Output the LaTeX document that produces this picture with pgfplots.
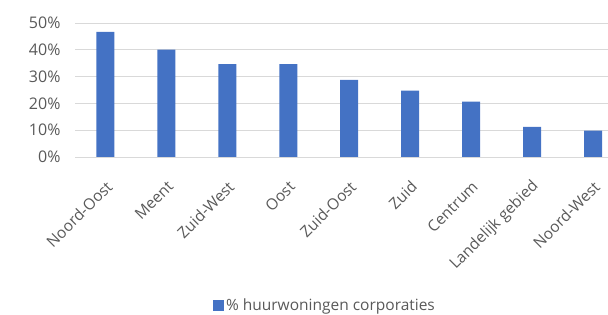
\documentclass[border=0pt]{standalone}
\usepackage{fontspec}
\setmainfont{Open Sans}
\usepackage{pgfplots}
\pgfplotsset{compat=1.18}
\definecolor{barblue}{HTML}{4472C4}
\definecolor{gridgray}{HTML}{D9D9D9}
\definecolor{txtgray}{HTML}{595959}
\begin{document}
\begin{tikzpicture}
\useasboundingbox (0pt,0pt) rectangle (608pt,315pt);
\begin{axis}[
  at={(75pt,158pt)}, anchor=south west,
  scale only axis, width=533pt, height=134pt,
  xmin=-0.5, xmax=8.246, ymin=0, ymax=50,
  ybar, bar width=18pt,
  xtick={0,...,8},
  xticklabels={Noord-Oost,Meent,Zuid-West,Oost,Zuid-Oost,Zuid,Centrum,Landelijk gebied,Noord-West},
  ytick={0,10,20,30,40,50},
  yticklabels={0\%,10\%,20\%,30\%,40\%,50\%},
  ymajorgrids, grid style={gridgray, line width=0.8pt},
  axis line style={draw=none},
  tick style={draw=none},
  major tick length=0pt,
  tick label style={text=txtgray},
  yticklabel style={font=\fontsize{16}{18}\selectfont, xshift=-11pt},
  xticklabel style={font=\fontsize{15.5}{18}\selectfont, xshift=4pt, yshift=-27pt, rotate=45, anchor=east, inner sep=0pt},
  legend style={at={(0.469,-1.105)}, anchor=center, draw=none, fill=none,
    font=\fontsize{15.5}{18}\selectfont, text=txtgray},
  legend image code/.code={\fill[barblue] (0pt,-5.5pt) rectangle (11pt,5.5pt);},
]
\addplot[fill=barblue, draw=none] coordinates {
  (0,46.7) (1,40.1) (2,34.7) (3,34.7) (4,28.8) (5,24.8) (6,20.7) (7,11.2) (8,9.8)
};
\addlegendentry{\% huurwoningen corporaties}
\end{axis}
\end{tikzpicture}
\end{document}
